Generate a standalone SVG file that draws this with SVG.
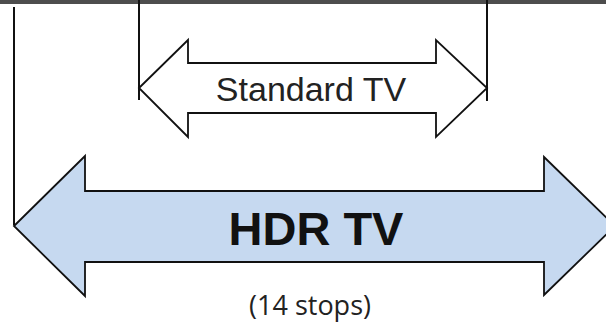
<svg xmlns="http://www.w3.org/2000/svg" width="606" height="325" viewBox="0 0 606 325">
<style>
.arrow{stroke:#111;stroke-width:1.8;stroke-linejoin:miter}
.line{stroke:#111;stroke-width:2;fill:none}
.lbl{font-family:"Liberation Sans",Arial,sans-serif;text-anchor:middle}
</style>
<rect x="0" y="0" width="606" height="325" fill="#ffffff"/>
<rect id="topbar" x="0" y="0" width="606" height="4" fill="#4d4d4d"/>
<g id="connectors">
<line class="line" x1="14" y1="7" x2="14" y2="225"/>
<line class="line" x1="139" y1="0" x2="139" y2="100"/>
<line class="line" x1="487" y1="0" x2="487" y2="101"/>
</g>
<g id="standard-tv">
<polygon class="arrow" fill="#ffffff" points="139,88 188,40 188,63 436,63 436,40 487,88 436,137 436,113 188,113 188,137"/>
<text class="lbl" x="311" y="101" font-size="34" fill="#222">Standard TV</text>
</g>
<g id="hdr-tv">
<polygon class="arrow" fill="#c6d9f0" points="14,226 85,156 85,191 544,191 544,157 615,226 544,295 544,262 85,262 85,296"/>
<text class="lbl" x="316" y="245" font-size="47" font-weight="bold" fill="#111">HDR TV</text>
</g>
<g id="stops">
<text x="310" y="315" font-family="'Open Sans',sans-serif" font-size="27" text-anchor="middle" fill="#222">(14 stops)</text>
</g>
</svg>
